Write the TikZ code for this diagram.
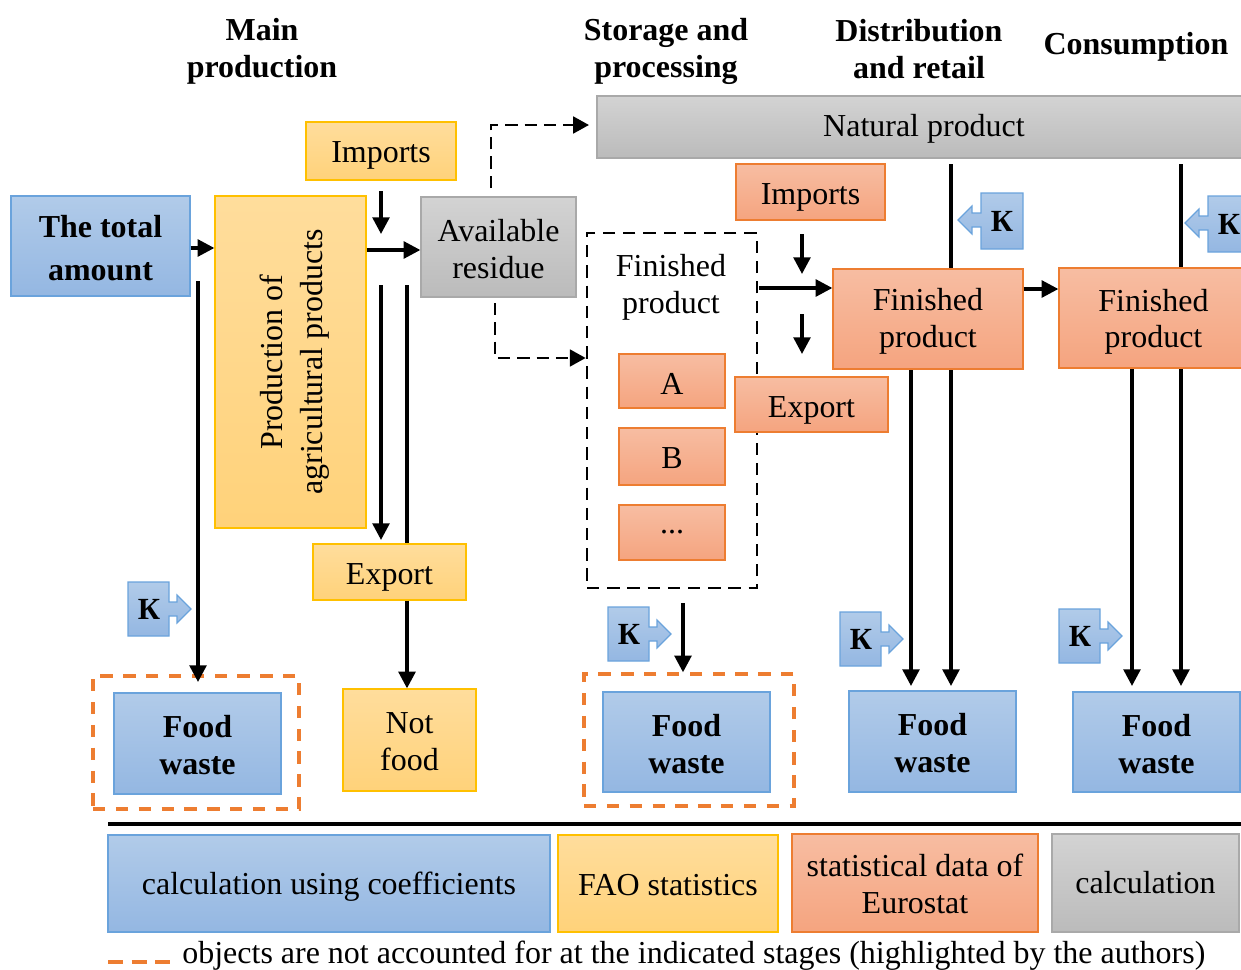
\documentclass[tikz,border=0pt]{standalone}
\usepackage{fontspec}
\setmainfont{Liberation Serif}
\usetikzlibrary{arrows.meta}
\definecolor{blueline}{HTML}{6AA3DC}
\definecolor{bluetop}{HTML}{B1CBE9}
\definecolor{bluebot}{HTML}{94B7E2}
\definecolor{yelline}{HTML}{FFC000}
\definecolor{yeltop}{HTML}{FFDD9C}
\definecolor{yelbot}{HTML}{FFD27A}
\definecolor{redline}{HTML}{ED7D31}
\definecolor{redtop}{HTML}{F7BDA2}
\definecolor{redbot}{HTML}{F5A47F}
\definecolor{grayline}{HTML}{A9A9A9}
\definecolor{graytop}{HTML}{D3D3D3}
\definecolor{graybot}{HTML}{BBBBBB}
\newcommand{\dropln}[1]{\rule{0pt}{\dimexpr 12.5pt+#1pt\relax}}
\tikzset{
  sz/.style 2 args={minimum width=#1*0.02cm,minimum height=#2*0.02cm,inner sep=0pt,align=center},
  txt/.style={font=\fontsize{18.2}{21}\selectfont},
  drop/.style={execute at begin node={\dropln{#1}}},
  bluebox/.style={draw=blueline,line width=.7pt,top color=bluetop,bottom color=bluebot},
  yelbox/.style={draw=yelline,line width=.7pt,top color=yeltop,bottom color=yelbot},
  redbox/.style={draw=redline,line width=.7pt,top color=redtop,bottom color=redbot},
  graybox/.style={draw=grayline,line width=.7pt,top color=graytop,bottom color=graybot},
  head/.style={align=center,font=\fontsize{18.2}{21}\selectfont\bfseries},
  line/.style={line width=2pt},
  arr/.style={line width=2pt,-{Triangle[length=9.5pt,width=9.5pt]}},
  dasharr/.style={line width=1.5pt,dash pattern=on 7pt off 4pt,-{Triangle[length=9pt,width=9.5pt]}},
  pics/kright/.style={code={
    \draw[bluebox] (0,0)--(41,0)--(41,20)--(49,20)--(49,13)--(63,27)--(49,41)--(49,34)--(41,34)--(41,54)--(0,54)--cycle;
    \node[txt,font=\fontsize{17.5}{21}\selectfont\bfseries] at (21,27) {К};}},
  pics/kleft/.style={code={
    \draw[bluebox] (42,0)--(0,0)--(0,20)--(-9,20)--(-9,13)--(-23,27)--(-9,41)--(-9,34)--(0,34)--(0,56)--(42,56)--cycle;
    \node[txt,font=\fontsize{17.5}{21}\selectfont\bfseries] at (21,28) {К};}}
}
\begin{document}
\begin{tikzpicture}[x=0.02cm,y=-0.02cm]
  \path[use as bounding box,clip] (0,0) rectangle (1241,970);

  % column titles
  \node[head] (tmain) at (262,51) {Main\\production};
  \node[head] (tstore) at (666,51) {Storage and\\processing};
  \node[head] (tdist) at (919,49) {Distribution\\and retail};
  \node[head] (tcons) at (1136,46.5) {Consumption};

  % first stage
  \node[bluebox,sz={179}{100},font=\fontsize{18.2}{24.6}\selectfont\bfseries] (total) at (100.5,246) {\dropln{2.3}The total\\amount};
  \node[yelbox,sz={151}{332}] (prod) at (290.5,362) {};
  \node[rotate=90,align=center,font=\fontsize{18.2}{23}\selectfont] (prodt) at (294.5,362) {Production of\\agricultural products};
  \node[yelbox,sz={150}{58},txt,drop=4.5] (imp1) at (381,151) {Imports};
  \node[graybox,sz={155}{100},txt] (avail) at (498.5,247) {\dropln{2.3}Available\\residue};
  \node[yelbox,sz={153}{56},txt,drop=5.6] (exp1) at (389.5,572) {Export};
  \node[yelbox,sz={133}{102},txt] (notf) at (409.5,740) {\dropln{1.5}Not\\food};

  % finished product group
  \node[draw,line width=1.5pt,dash pattern=on 7pt off 4.5pt,sz={170}{355}] (fingrp) at (672,410.5) {};
  \node[txt,align=center] (fint) at (671,287) {Finished\\product};
  \node[redbox,sz={106}{54},txt,drop=2.3] (a) at (672,381) {A};
  \node[redbox,sz={106}{57},txt,drop=1.1] (b) at (672,456.5) {B};
  \node[redbox,sz={106}{55},txt] (c) at (672,532.5) {...};

  % natural product and later stages
  \node[graybox,sz={654}{62},txt,drop=2.3] (nat) at (924,127) {Natural product};
  \node[redbox,sz={149}{56},txt,drop=5.6] (imp2) at (810.5,192) {Imports};
  \node[redbox,sz={153}{55},txt,drop=5.6] (exp2) at (811.5,404.5) {Export};
  \node[redbox,sz={190}{100},txt] (fin1) at (928,319) {\dropln{2.3}Finished\\product};
  \node[redbox,sz={189}{100},txt] (fin2) at (1153.5,318) {\dropln{4.5}Finished\\product};

  % food waste
  \node[draw=redline,line width=1.9pt,dash pattern=on 7pt off 6pt,sz={206}{133}] (dash1) at (196,742.5) {};
  \node[draw=redline,line width=1.9pt,dash pattern=on 7pt off 6pt,sz={210}{132}] (dash2) at (689,740) {};
  \node[bluebox,sz={167}{101},head] (fw1) at (197.5,743.5) {\dropln{2.3}Food\\waste};
  \node[bluebox,sz={167}{100},head] (fw2) at (686.5,742) {\dropln{2.3}Food\\waste};
  \node[bluebox,sz={167}{101},head] (fw3) at (932.5,741.5) {\dropln{2.3}Food\\waste};
  \node[bluebox,sz={167}{100},head] (fw4) at (1156.5,742) {\dropln{2.3}Food\\waste};

  % coefficients
  \pic at (128,582) {kright};
  \pic at (608,607) {kright};
  \pic at (840,612) {kright};
  \pic at (1059,609) {kright};
  \pic at (981,193) {kleft};
  \pic at (1208,196) {kleft};

  % free ends
  \coordinate (s1) at (198,281);
  \coordinate (e1) at (198,682);
  \coordinate (s2) at (381,191);
  \coordinate (e2) at (381,234);
  \coordinate (s3) at (381,285);
  \coordinate (e3) at (381,540);
  \coordinate (s4) at (407,285);
  \coordinate (s5) at (491,188);
  \coordinate (c5) at (491,125);
  \coordinate (e5) at (589,125);
  \coordinate (s6) at (495,303);
  \coordinate (c6) at (495,358);
  \coordinate (s7) at (802,234);
  \coordinate (e7) at (802,274);
  \coordinate (s8) at (802,314);
  \coordinate (e8) at (802,354);
  \coordinate (s9) at (951,164);
  \coordinate (s10) at (1181,164);
  \coordinate (s11) at (683,603);
  \coordinate (s12) at (759,288);
  \coordinate (k911) at (911,370);
  \coordinate (k951) at (951,370);
  \coordinate (k1132) at (1132,369);
  \coordinate (k1181) at (1181,369);

  \draw[arr] (total.east |- 0,248) -- (prod.west |- 0,248);
  \draw[arr] (prod.east |- 0,250) -- (avail.west |- 0,250);
  \draw[arr] (s1) -- (e1);
  \draw[arr] (s2) -- (e2);
  \draw[arr] (s3) -- (e3);
  \draw[line] (s4) -- (s4 |- exp1.north);
  \draw[arr] (s4 |- exp1.south) -- (s4 |- notf.north);
  \draw[dasharr] (s5) -- (c5) -- (e5);
  \draw[dasharr] (s6) -- (c6) -- (fingrp.west |- c6);
  \draw[arr] (s7) -- (e7);
  \draw[arr] (s8) -- (e8);
  \draw[arr] (s12) -- (fin1.west |- s12);
  \draw[arr] (fin1.east |- 0,289) -- (fin2.west |- 0,289);
  \draw[line] (s9) -- (s9 |- fin1.north);
  \draw[line] (s10) -- (s10 |- fin2.north);
  \draw[arr] (k911) -- (k911 |- 0,686);
  \draw[arr] (k951) -- (k951 |- 0,686);
  \draw[arr] (k1132) -- (k1132 |- 0,686);
  \draw[arr] (k1181) -- (k1181 |- 0,686);
  \draw[arr] (s11) -- (s11 |- dash2.north);

  % legend
  \coordinate (rulea) at (108,824);
  \coordinate (ruleb) at (1241,824);
  \draw[line width=2.3pt] (rulea) -- (ruleb);
  \node[bluebox,sz={442}{97},txt,drop=4.5] (leg1) at (329,883.5) {calculation using coefficients};
  \node[yelbox,sz={220}{97},txt,drop=1.1] (leg2) at (668,883.5) {FAO statistics};
  \node[redbox,sz={246}{98},txt] (leg3) at (915,883) {\dropln{1.1}statistical data of\\Eurostat};
  \node[graybox,sz={187}{98},txt] (leg4) at (1145.5,883) {calculation};
  \coordinate (keya) at (108,962);
  \coordinate (keyb) at (170,962);
  \draw[redline,line width=1.9pt,dash pattern=on 8.5pt off 5pt] (keya) -- (keyb);
  \node[txt,anchor=base west,inner sep=0pt] (keyt) at (182,963) {objects are not accounted for at the indicated stages (highlighted by the authors)};
\end{tikzpicture}
\end{document}
